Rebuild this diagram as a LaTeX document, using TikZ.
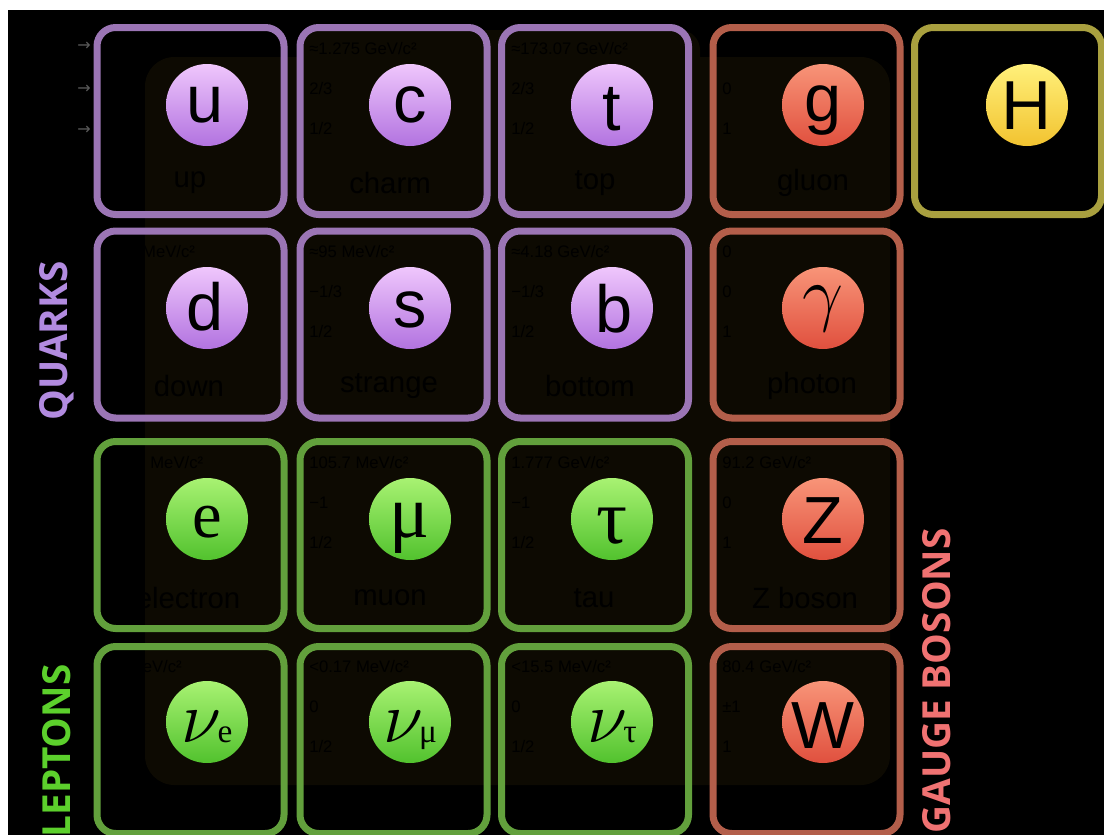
\documentclass[tikz,border=0pt]{standalone}
\usepackage{fontspec}
\setmainfont{Liberation Sans}
\newfontfamily\serifF{Liberation Serif}
\newfontfamily\catF{Open Sans}
\newfontfamily\symF{DejaVu Sans}
\definecolor{qline}{HTML}{9B75B5}
\definecolor{lline}{HTML}{62A03C}
\definecolor{bline}{HTML}{B35E4A}
\definecolor{hline}{HTML}{A9A03F}
\definecolor{qlight}{HTML}{EFC6FC}
\definecolor{qdark}{HTML}{B273E0}
\definecolor{llight}{HTML}{A8F272}
\definecolor{ldark}{HTML}{52C22E}
\definecolor{blight}{HTML}{F89478}
\definecolor{bdark}{HTML}{E0503E}
\definecolor{hlight}{HTML}{FFF07A}
\definecolor{hdark}{HTML}{F2C330}
\definecolor{qtext}{HTML}{B28BE0}
\definecolor{ltext}{HTML}{5CD02C}
\definecolor{btext}{HTML}{F07272}
\definecolor{veil}{HTML}{0D0A02}
\definecolor{arrowgray}{HTML}{5A5A5A}
\tikzset{
  cellbox/.style={draw, rounded corners=14pt, line width=5.25pt, minimum width=140.25pt, minimum height=140.25pt, inner sep=0pt},
  ball/.style={circle, minimum size=61.5pt, inner sep=0pt, shading angle=45},
  qball/.style={ball, top color=qlight, bottom color=qdark},
  lball/.style={ball, top color=llight, bottom color=ldark},
  bball/.style={ball, top color=blight, bottom color=bdark},
  hball/.style={ball, top color=hlight, bottom color=hdark},
  glyph/.style={anchor=base, inner sep=0pt, text=black},
  sglyph/.style={glyph, font=\fontsize{50}{50}\selectfont},
  rglyph/.style={glyph, font=\serifF\fontsize{50}{50}\selectfont},
  pname/.style={text=black, font=\fontsize{22}{22}\selectfont, inner sep=0pt},
  prop/.style={text=black, font=\fontsize{12.5}{12.5}\selectfont, anchor=west, inner sep=0pt},
  cat/.style={rotate=90, font=\catF\bfseries\fontsize{29}{29}\selectfont, inner sep=0pt},
  marker/.style={text=arrowgray, font=\symF\fontsize{12}{12}\selectfont, inner sep=0pt}
}
\newcommand{\bignu}{\scalebox{2.2}{\fontsize{24.88}{25}\selectfont$\nu$}}
\newcommand{\biggam}{\scalebox{2.2}{\fontsize{24.88}{25}\selectfont$\gamma$}}
\newcommand{\subsc}[1]{{\serifF\fontsize{25}{25}\selectfont #1}}
\begin{document}
\begin{tikzpicture}[x=0.75pt, y=-0.75pt]
\useasboundingbox (0,0) rectangle (1104,835);
\fill[white] (0,0) rectangle (1104,835);
\fill[black] (8,10) rectangle (1104,835);
% faint veils
\fill[veil, rounded corners=22pt] (145,57) rectangle (890,785);
\fill[veil, rounded corners=15pt] (297,30) rectangle (700,200);
% arrows
\node[marker] (m1) at (84,46) {→};
\node[marker] (m2) at (84,89) {→};
\node[marker] (m3) at (84,130) {→};
% boxes
\node[cellbox, qline] (bu) at (190.5,121) {};
\node[cellbox, qline] (bc) at (393.5,121) {};
\node[cellbox, qline] (bt) at (595,121) {};
\node[cellbox, bline] (bg) at (806.5,121) {};
\node[cellbox, hline] (bH) at (1008,121) {};
\node[cellbox, qline] (bd) at (190.5,324.5) {};
\node[cellbox, qline] (bs) at (393.5,324.5) {};
\node[cellbox, qline] (bb) at (595,324.5) {};
\node[cellbox, bline] (bgam) at (806.5,324.5) {};
\node[cellbox, lline] (be) at (190.5,535) {};
\node[cellbox, lline] (bmu) at (393.5,535) {};
\node[cellbox, lline] (btau) at (595,535) {};
\node[cellbox, bline] (bZ) at (806.5,535) {};
\node[cellbox, lline] (bnue) at (190.5,740) {};
\node[cellbox, lline] (bnumu) at (393.5,740) {};
\node[cellbox, lline] (bnutau) at (595,740) {};
\node[cellbox, bline] (bW) at (806.5,740) {};
% properties
\node[prop] (pu1) at (105,49) {≈2.3 MeV/c²};
\node[prop] (pu2) at (105,89) {2/3};
\node[prop] (pu3) at (105,129) {1/2};
\node[prop] (pc1) at (309,49) {≈1.275 GeV/c²};
\node[prop] (pc2) at (309,89) {2/3};
\node[prop] (pc3) at (309,129) {1/2};
\node[prop] (pt1) at (511,49) {≈173.07 GeV/c²};
\node[prop] (pt2) at (511,89) {2/3};
\node[prop] (pt3) at (511,129) {1/2};
\node[prop] (pg1) at (722,49) {0};
\node[prop] (pg2) at (722,89) {0};
\node[prop] (pg3) at (722,129) {1};
\node[prop] (pd1) at (105,252) {≈4.8 MeV/c²};
\node[prop] (pd2) at (105,292) {−1/3};
\node[prop] (pd3) at (105,332) {1/2};
\node[prop] (ps1) at (309,252) {≈95 MeV/c²};
\node[prop] (ps2) at (309,292) {−1/3};
\node[prop] (ps3) at (309,332) {1/2};
\node[prop] (pb1) at (511,252) {≈4.18 GeV/c²};
\node[prop] (pb2) at (511,292) {−1/3};
\node[prop] (pb3) at (511,332) {1/2};
\node[prop] (pgam1) at (722,252) {0};
\node[prop] (pgam2) at (722,292) {0};
\node[prop] (pgam3) at (722,332) {1};
\node[prop] (pe1) at (105,463) {0.511 MeV/c²};
\node[prop] (pe2) at (105,503) {−1};
\node[prop] (pe3) at (105,543) {1/2};
\node[prop] (pmu1) at (309,463) {105.7 MeV/c²};
\node[prop] (pmu2) at (309,503) {−1};
\node[prop] (pmu3) at (309,543) {1/2};
\node[prop] (ptau1) at (511,463) {1.777 GeV/c²};
\node[prop] (ptau2) at (511,503) {−1};
\node[prop] (ptau3) at (511,543) {1/2};
\node[prop] (pZ1) at (722,463) {91.2 GeV/c²};
\node[prop] (pZ2) at (722,503) {0};
\node[prop] (pZ3) at (722,543) {1};
\node[prop] (pnue1) at (105,667) {<2.2 eV/c²};
\node[prop] (pnue2) at (105,707) {0};
\node[prop] (pnue3) at (105,747) {1/2};
\node[prop] (pnumu1) at (309,667) {<0.17 MeV/c²};
\node[prop] (pnumu2) at (309,707) {0};
\node[prop] (pnumu3) at (309,747) {1/2};
\node[prop] (pnutau1) at (511,667) {<15.5 MeV/c²};
\node[prop] (pnutau2) at (511,707) {0};
\node[prop] (pnutau3) at (511,747) {1/2};
\node[prop] (pW1) at (722,667) {80.4 GeV/c²};
\node[prop] (pW2) at (722,707) {±1};
\node[prop] (pW3) at (722,747) {1};
% names
\node[pname] (nu) at (190,183) {up};
\node[pname] (nc) at (390,183) {charm};
\node[pname] (nt) at (595,183) {top};
\node[pname] (ng) at (813,183) {gluon};
\node[pname] (nd) at (189,386) {down};
\node[pname] (ns) at (389,386) {strange};
\node[pname] (nb) at (590,386) {bottom};
\node[pname] (ngam) at (812,386) {photon};
\node[pname] (ne) at (188,598) {electron};
\node[pname] (nmu) at (390,598) {muon};
\node[pname] (ntau) at (594,598) {tau};
\node[pname] (nZ) at (805,598) {Z boson};
% balls
\node[qball] (u) at (207,105) {};
\node[qball] (c) at (410,105) {};
\node[qball] (t) at (612,105) {};
\node[bball] (g) at (823,105) {};
\node[hball] (H) at (1027,105) {};
\node[qball] (d) at (207,308) {};
\node[qball] (s) at (410,308) {};
\node[qball] (b) at (612,308) {};
\node[bball] (gam) at (823,308) {};
\node[lball] (e) at (207,519) {};
\node[lball] (mu) at (410,519) {};
\node[lball] (tau) at (612,519) {};
\node[bball] (Z) at (823,519) {};
\node[lball] (nue) at (207,722) {};
\node[lball] (numu) at (410,722) {};
\node[lball] (nutau) at (612,722) {};
\node[bball] (W) at (823,722) {};
% ball symbols
\node[sglyph] (ut) at (205,122) {u};
\node[sglyph] (ct) at (410,122) {c};
\node[sglyph] (tt) at (612,130) {t};
\node[sglyph] (gt) at (823,121) {g};
\node[sglyph, font=\fontsize{52}{52}\selectfont] (Ht) at (1027,129) {H};
\node[sglyph] (dt) at (205,330) {d};
\node[sglyph] (st) at (410,327) {s};
\node[sglyph] (bt2) at (614,332) {b};
\node[glyph] (gamt) at (823,317) {\biggam};
\node[rglyph] (et) at (207,537) {e};
\node[rglyph, font=\serifF\fontsize{56}{56}\selectfont] (mut) at (410,537) {μ};
\node[rglyph, font=\serifF\fontsize{58}{58}\selectfont] (taut) at (612,543) {τ};
\node[sglyph] (Zt) at (823,543) {Z};
\node[glyph] (nuet) at (207,742) {\bignu\kern-3pt\subsc{e}};
\node[glyph] (numut) at (410,742) {\bignu\kern-3pt\subsc{μ}};
\node[glyph] (nutaut) at (612,742) {\bignu\kern-3pt\subsc{τ}};
\node[sglyph] (Wt) at (823,748) {W};
% category labels
\node[cat, text=qtext] (quarks) at (57,341) {QUARKS};
\node[cat, text=ltext] (leptons) at (57,751) {LEPTONS};
\node[cat, text=btext] (gauge) at (937,681) {GAUGE BOSONS};
\end{tikzpicture}
\end{document}
